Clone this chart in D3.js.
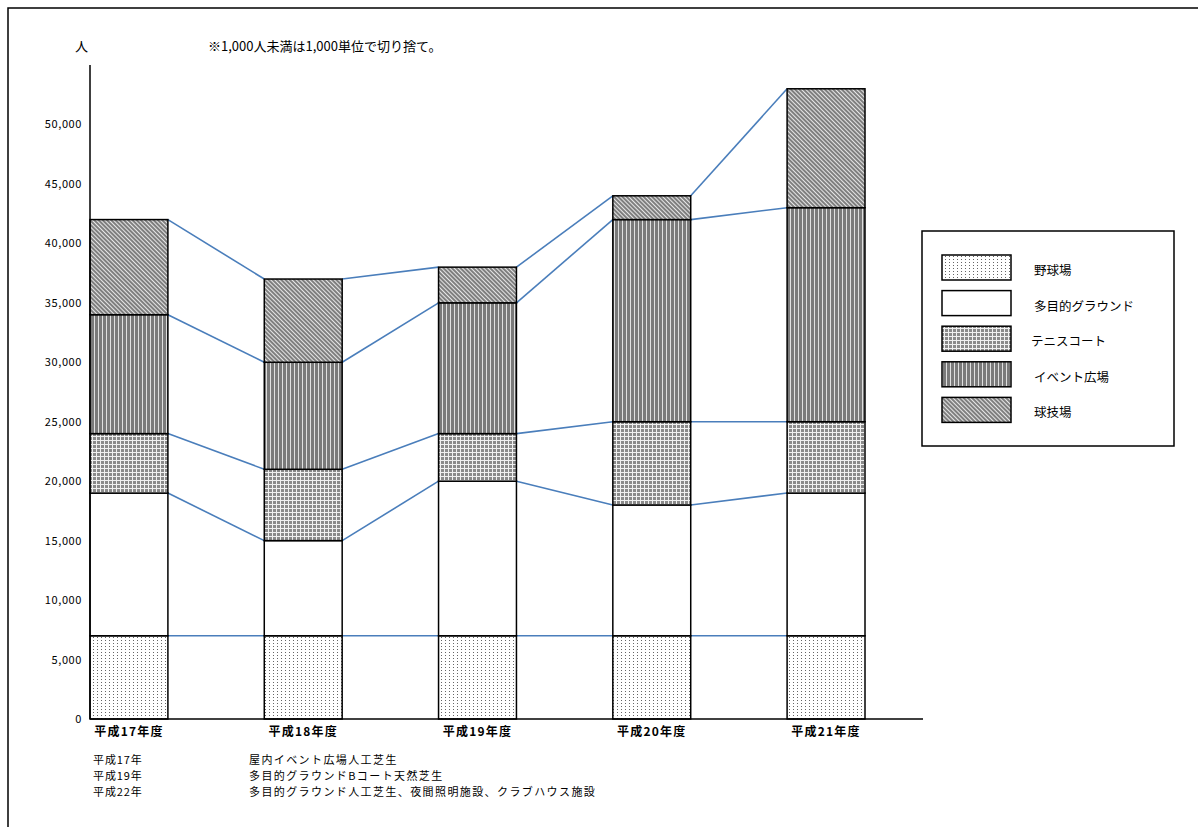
<!DOCTYPE html>
<html>
<head>
<meta charset="utf-8">
<script src="https://cdn.jsdelivr.net/npm/d3@7"></script>
<style>
  body { margin: 0; background: #fff; }
  svg text { font-family: "Noto Sans CJK JP", "Noto Sans", sans-serif; fill: #000; }
</style>
</head>
<body>
<div id="chartDiv"></div>
<script>
'use strict';

// categories and series (values in persons, floored to 1,000)
const years = ['平成17年度', '平成18年度', '平成19年度', '平成20年度', '平成21年度'];
const seriesNames = ['野球場', '多目的グラウンド', 'テニスコート', 'イベント広場', '球技場'];
const baseball   = [7000, 7000, 7000, 7000, 7000];
const multiField = [12000, 8000, 13000, 11000, 12000];
const tennis     = [5000, 6000, 4000, 7000, 6000];
const eventPlaza = [10000, 9000, 11000, 17000, 18000];
const ballField  = [8000, 7000, 3000, 2000, 10000];
const yTicks = [0, 5000, 10000, 15000, 20000, 25000, 30000, 35000, 40000, 45000, 50000];
const noteYears = ['平成17年', '平成19年', '平成22年'];
const noteTexts = ['屋内イベント広場人工芝生', '多目的グラウンドBコート天然芝生', '多目的グラウンド人工芝生、夜間照明施設、クラブハウス施設'];

const W = 1198, H = 827;
const svg = d3.select('#chartDiv').append('svg').attr('width', W).attr('height', H);

// ---- patterns ----
const defs = svg.append('defs');

const pDots = defs.append('pattern').attr('id', 'p-dots')
  .attr('patternUnits', 'userSpaceOnUse').attr('width', 4).attr('height', 3);
pDots.append('rect').attr('width', 4).attr('height', 3).attr('fill', '#fff');
pDots.append('rect').attr('x', 1).attr('y', 1).attr('width', 1).attr('height', 1).attr('fill', '#666');

const pGrid = defs.append('pattern').attr('id', 'p-grid')
  .attr('patternUnits', 'userSpaceOnUse').attr('width', 4).attr('height', 4);
pGrid.append('rect').attr('width', 4).attr('height', 4).attr('fill', '#8a8a8a');
pGrid.append('rect').attr('width', 4).attr('height', 1).attr('fill', '#f0f0f0');
pGrid.append('rect').attr('width', 1).attr('height', 4).attr('fill', '#f0f0f0');

const pVert = defs.append('pattern').attr('id', 'p-vert')
  .attr('patternUnits', 'userSpaceOnUse').attr('width', 4).attr('height', 4);
pVert.append('rect').attr('width', 4).attr('height', 4).attr('fill', '#7a7a7a');
pVert.append('rect').attr('x', 2).attr('width', 1).attr('height', 4).attr('fill', '#e0e0e0');

const pDiag = defs.append('pattern').attr('id', 'p-diag')
  .attr('patternUnits', 'userSpaceOnUse').attr('width', 3).attr('height', 3)
  .attr('patternTransform', 'rotate(45)');
pDiag.append('rect').attr('width', 3).attr('height', 3).attr('fill', '#7f7f7f');
pDiag.append('rect').attr('width', 3).attr('height', 1).attr('fill', '#e6e6e6');

const fills = ['url(#p-dots)', '#fff', 'url(#p-grid)', 'url(#p-vert)', 'url(#p-diag)'];

// ---- outer frame ----
svg.append('path').attr('d', `M8,${H} V8 H${W}`)
  .attr('fill', 'none').attr('stroke', '#000').attr('stroke-width', 1.5);

// ---- scales ----
const plot = { left: 90, right: 923, top: 65, bottom: 719 };

const yScale = d3.scaleLinear().domain([0, 55000]).range([plot.bottom, plot.top]);

const xScale = d3.scaleBand().domain(years)
  .range([plot.left, 865]).paddingInner(0.553).paddingOuter(0).align(0);

const table = years.map((y, i) => ({
  year: y, s0: baseball[i], s1: multiField[i], s2: tennis[i], s3: eventPlaza[i], s4: ballField[i]
}));
const stacked = d3.stack().keys(['s0', 's1', 's2', 's3', 's4'])(table);

// ---- connector lines between bars ----
const g = svg.append('g');
stacked.forEach(layer => {
  for (let i = 0; i < layer.length - 1; i++) {
    g.append('line')
      .attr('x1', xScale(years[i]) + xScale.bandwidth())
      .attr('y1', yScale(layer[i][1]))
      .attr('x2', xScale(years[i + 1]))
      .attr('y2', yScale(layer[i + 1][1]))
      .attr('stroke', '#4a7ebb').attr('stroke-width', 1.6);
  }
});

// ---- bars ----
stacked.forEach((layer, k) => {
  g.selectAll(null).data(layer).enter().append('rect')
    .attr('x', (d, i) => xScale(years[i]))
    .attr('y', d => yScale(d[1]))
    .attr('width', xScale.bandwidth())
    .attr('height', d => yScale(d[0]) - yScale(d[1]))
    .attr('fill', fills[k])
    .attr('stroke', '#000').attr('stroke-width', 1.5);
});

// ---- axes ----
svg.append('line').attr('x1', plot.left).attr('x2', plot.left)
  .attr('y1', plot.top).attr('y2', plot.bottom)
  .attr('stroke', '#000').attr('stroke-width', 1.5);
svg.append('line').attr('x1', plot.left).attr('x2', plot.right)
  .attr('y1', plot.bottom).attr('y2', plot.bottom)
  .attr('stroke', '#000').attr('stroke-width', 1.5);

svg.append('g').selectAll(null).data(yTicks).enter().append('text')
  .attr('x', 82).attr('y', d => yScale(d) + 4)
  .attr('text-anchor', 'end').attr('font-size', 11).attr('letter-spacing', 0.6)
  .text(d => d3.format(',')(d));

svg.append('g').selectAll(null).data(years).enter().append('text')
  .attr('x', d => xScale(d) + xScale.bandwidth() / 2).attr('y', 736)
  .attr('text-anchor', 'middle').attr('font-size', 12).attr('font-weight', 'bold')
  .attr('letter-spacing', 1.2)
  .text(d => d);

// ---- titles ----
svg.append('text').attr('x', 75).attr('y', 51).attr('font-size', 13).text('人');
svg.append('text').attr('x', 208).attr('y', 51).attr('font-size', 13)
  .text('※1,000人未満は1,000単位で切り捨て。');

// ---- notes ----
const notes = svg.append('g');
noteYears.forEach((t, i) => {
  notes.append('text').attr('x', 93).attr('y', 764 + i * 16)
    .attr('font-size', 11).attr('letter-spacing', 0.9).text(t);
  notes.append('text').attr('x', 249).attr('y', 764 + i * 16)
    .attr('font-size', 11).attr('letter-spacing', 1.4).text(noteTexts[i]);
});

// ---- legend ----
const legend = svg.append('g');
legend.append('rect').attr('x', 922).attr('y', 231).attr('width', 252).attr('height', 215)
  .attr('fill', '#fff').attr('stroke', '#000').attr('stroke-width', 1.5);
seriesNames.forEach((name, k) => {
  const y0 = 255 + k * 35.6;
  legend.append('rect').attr('x', 942).attr('y', y0).attr('width', 69).attr('height', 25)
    .attr('fill', fills[k]).attr('stroke', '#000').attr('stroke-width', 1.5);
  legend.append('text').attr('x', k === 2 ? 1031 : 1034).attr('y', y0 + 20)
    .attr('font-size', 12.5).text(name);
});
</script>
</body>
</html>
